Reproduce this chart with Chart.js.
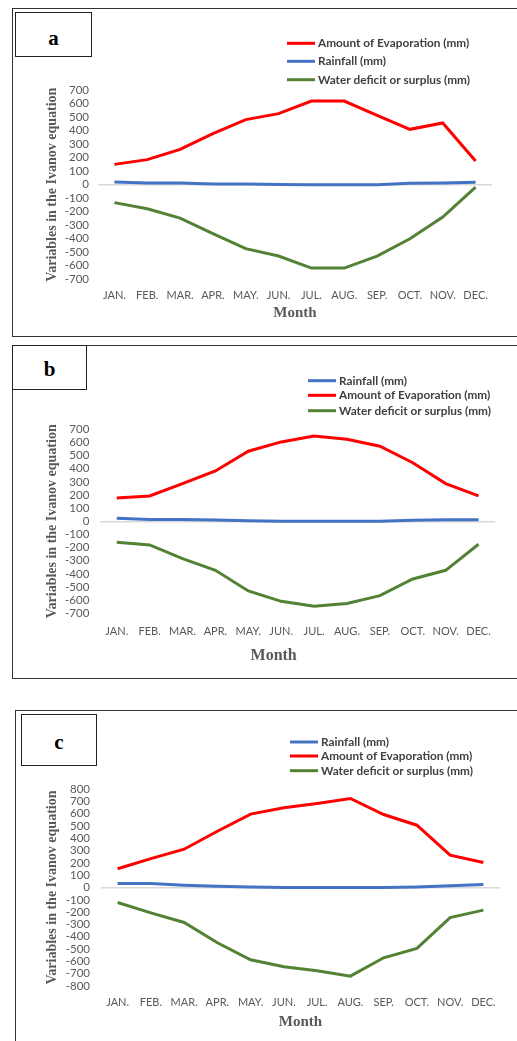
<!DOCTYPE html>
<html>
<head>
<meta charset="utf-8">
<script src="https://cdn.jsdelivr.net/npm/chart.js@4"></script>
<style>
body { margin: 0; width: 517px; height: 1041px; overflow: hidden; background: #fff; position: relative; }
.frame { position: absolute; border: 1.5px solid #333; box-sizing: border-box; }
.tag { position: absolute; border: 1.5px solid #222; box-sizing: border-box; background: #fff;
       font: bold 21px "Liberation Serif"; color: #000; display: flex; align-items: center; justify-content: center; }
canvas { position: absolute; left: 0; }
</style>
</head>
<body>
<div class="frame" style="left:12px;top:8px;width:520px;height:329px"></div>
<div class="frame" style="left:12px;top:345px;width:520px;height:334px"></div>
<div class="frame" style="left:15px;top:710px;width:520px;height:345px"></div>

<canvas id="chartA" width="517" height="340" style="top:0"></canvas>
<canvas id="chartB" width="517" height="345" style="top:340px"></canvas>
<canvas id="chartC" width="517" height="341" style="top:700px"></canvas>

<div class="tag" style="left:15px;top:12px;width:77px;height:45px;padding-top:8px">a</div>
<div class="tag" style="left:12px;top:345px;width:75px;height:45px;padding-top:4px">b</div>
<div class="tag" style="left:21px;top:714px;width:76px;height:52px;padding-top:4px">c</div>

<script>
// meses
const months = ["JAN.", "FEB.", "MAR.", "APR.", "MAY.", "JUN.", "JUL.", "AUG.", "SEP.", "OCT.", "NOV.", "DEC."];

// panel a
const evapA = [150, 185, 261, 377, 481, 525, 618, 618, 513, 409, 456, 175];
const rainA = [20, 12, 12, 5, 5, 1, 0, 0, 0, 10, 12, 17];
const deficitA = [-133, -178, -247, -362, -473, -528, -617, -617, -528, -400, -240, -18];

// panel b
const evapB = [177, 193, 287, 383, 533, 604, 649, 624, 571, 446, 287, 193];
const rainB = [23, 13, 13, 10, 5, 0, 0, 0, 0, 8, 12, 12];
const deficitB = [-160, -180, -284, -373, -530, -609, -647, -626, -566, -439, -373, -175];

// panel c
const evapC = [152, 235, 311, 457, 596, 647, 682, 723, 593, 506, 263, 203];
const rainC = [32, 32, 19, 10, 5, 0, 0, 0, 0, 5, 15, 24];
const deficitC = [-122, -206, -284, -449, -587, -644, -677, -720, -571, -495, -244, -184];

// y axis limits
const yRangeAB = [-700, 700];
const yRangeC = [-800, 800];
const yStep = 100;

const labelEvap = "Amount of Evaporation (mm)";
const labelRain = "Rainfall (mm)";
const labelDeficit = "Water deficit or surplus (mm)";

const RED = "#ff0000", BLUE = "#4472c4", GREEN = "#548235";
const GREY = "#595959";

// leyenda dibujada a mano (vertical, arriba a la derecha)
const sideLegend = {
    id: "sideLegend",
    afterDraw(chart, args, opts) {
        const ctx = chart.ctx;
        ctx.save();
        ctx.font = "bold 11.8px Lato";
        ctx.fillStyle = "#404040";
        ctx.textBaseline = "middle";
        chart.data.datasets.forEach((ds, i) => {
            const y = opts.rows[i];
            ctx.strokeStyle = ds.borderColor;
            ctx.lineWidth = 3;
            ctx.beginPath();
            ctx.moveTo(opts.x, y);
            ctx.lineTo(opts.x + 28, y);
            ctx.stroke();
            ctx.fillText(ds.label, opts.x + 31, y);
        });
        ctx.restore();
    }
};

function serie(label, data, color) {
    return { label, data, borderColor: color, backgroundColor: color, borderWidth: 3,
             pointRadius: 0, tension: 0, fill: false };
}

function makeChart(id, datasets, range, geo) {
    const ctx = document.getElementById(id).getContext("2d");
    return new Chart(ctx, {
        type: "line",
        data: { labels: months, datasets },
        plugins: [sideLegend],
        options: {
            responsive: false,
            animation: false,
            layout: { padding: { left: 40, right: geo.right, top: geo.top, bottom: geo.bottom } },
            plugins: {
                legend: { display: false },
                tooltip: { enabled: false },
                sideLegend: { x: geo.legX, rows: geo.legRows }
            },
            scales: {
                x: {
                    offset: true,
                    grid: { display: false },
                    border: { display: false },
                    ticks: { color: GREY, font: { family: "Lato", size: 11 }, padding: geo.xPad,
                             maxRotation: 0, autoSkip: false },
                    title: { display: true, text: geo.xTitle, color: GREY,
                             font: { family: "Liberation Serif", size: geo.xTitleSize, weight: "bold" },
                             padding: { top: 0, bottom: 0 } },
                    afterFit: s => { s.height = geo.xHeight; }
                },
                y: {
                    min: range[0],
                    max: range[1],
                    grid: { drawTicks: false, lineWidth: 1.5,
                            color: c => c.tick.value === 0 ? "#d9d9d9" : "rgba(0,0,0,0)" },
                    border: { display: false },
                    ticks: { stepSize: yStep, autoSkip: false, color: GREY,
                             font: { family: "Lato", size: 11.5 }, padding: geo.yPad },
                    title: { display: true, text: "Variables in the Ivanov equation", color: GREY,
                             font: { family: "Liberation Serif", size: 14, weight: "bold" },
                             padding: { top: 4, bottom: 0 } },
                    afterFit: s => { s.width = geo.yWidth; }
                }
            }
        }
    });
}

makeChart("chartA",
    [serie(labelEvap, evapA, RED), serie(labelRain, rainA, BLUE), serie(labelDeficit, deficitA, GREEN)],
    yRangeAB,
    { right: 25, top: 90, bottom: 18, xHeight: 42.7, yWidth: 58, yPad: 9, xPad: 2,
      xTitle: "Month", xTitleSize: 15, legX: 287, legRows: [43.3, 61.3, 79.7] });

makeChart("chartB",
    [serie(labelRain, rainB, BLUE), serie(labelEvap, evapB, RED), serie(labelDeficit, deficitB, GREEN)],
    yRangeAB,
    { right: 22, top: 89.3, bottom: 19.4, xHeight: 52.3, yWidth: 60.3, yPad: 11, xPad: 4,
      xTitle: "Month            ", xTitleSize: 16, legX: 308, legRows: [40.7, 55.3, 70.7] });

makeChart("chartC",
    [serie(labelRain, rainC, BLUE), serie(labelEvap, evapC, RED), serie(labelDeficit, deficitC, GREEN)],
    yRangeC,
    { right: 17, top: 89, bottom: 10, xHeight: 45, yWidth: 61, yPad: 11, xPad: 2,
      xTitle: "Month", xTitleSize: 15, legX: 290, legRows: [42, 56, 70.7] });
</script>
</body>
</html>
